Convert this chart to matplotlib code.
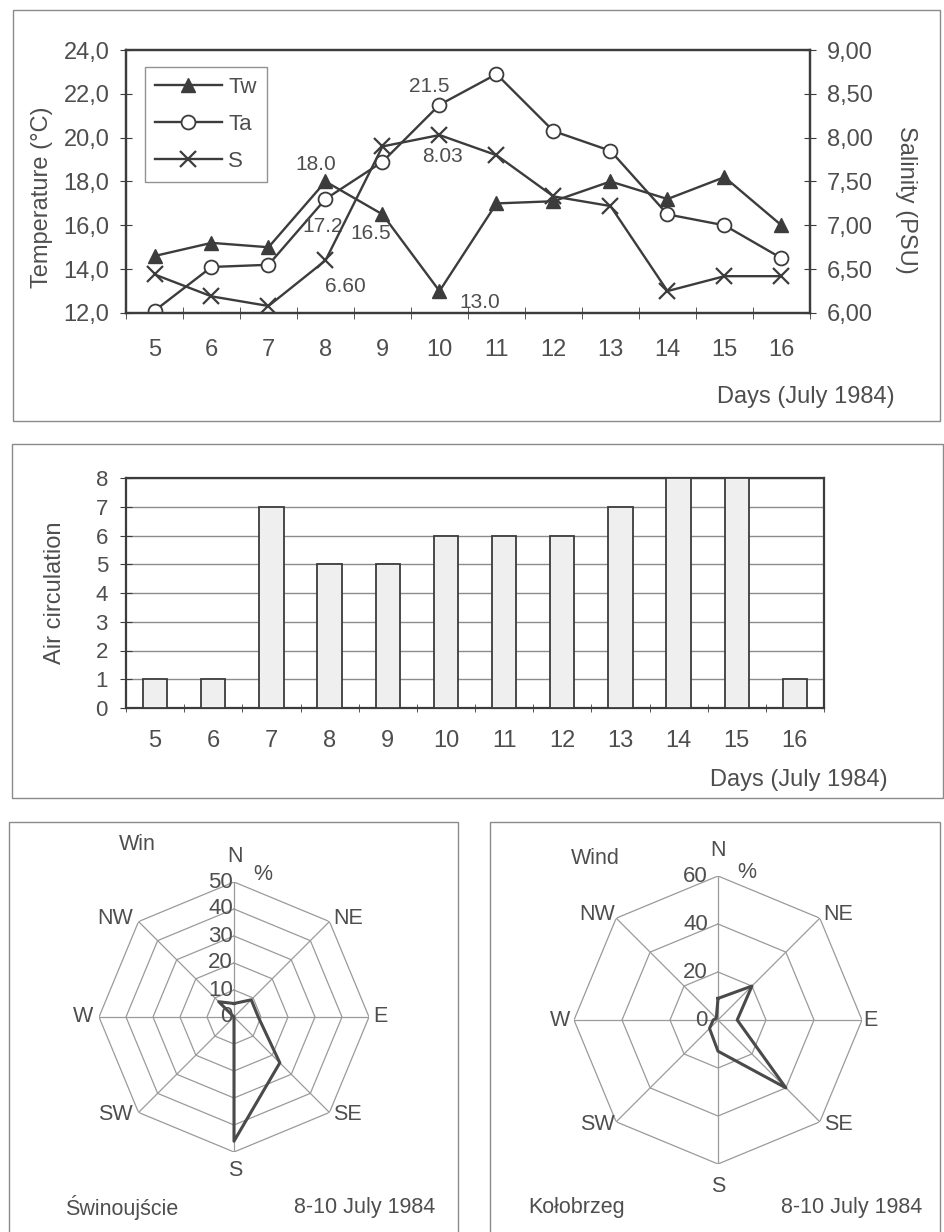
import numpy as np
import matplotlib
matplotlib.use("Agg")
import matplotlib.pyplot as plt
from matplotlib.patches import Rectangle

plt.rcParams['font.family'] = ['Liberation Sans', 'DejaVu Sans']

# ---- data ----
days = [5, 6, 7, 8, 9, 10, 11, 12, 13, 14, 15, 16]
tw = [14.6, 15.2, 15.0, 18.0, 16.5, 13.0, 17.0, 17.1, 18.0, 17.2, 18.2, 16.0]
ta = [12.1, 14.1, 14.2, 17.2, 18.9, 21.5, 22.9, 20.3, 19.4, 16.5, 16.0, 14.5]
sal = [6.44, 6.19, 6.08, 6.60, 7.90, 8.03, 7.80, 7.33, 7.22, 6.25, 6.42, 6.42]
air = [1, 1, 7, 5, 5, 6, 6, 6, 7, 8, 8, 1]

directions = ['N', 'NE', 'E', 'SE', 'S', 'SW', 'W', 'NW']
wind_swin = [5, 9, 9, 24, 46, 0, 0, 8]
wind_kol = [9, 20, 8, 40, 13, 5, 2, 1]

W, H = 945, 1232
INK = '#3c3c3c'
TXT = '#4e4e4e'
FRAME = '#8a8a8a'
FS = 17       # chart text
FS_R = 15.5   # radar text

fig = plt.figure(figsize=(W / 100, H / 100), dpi=100)
fig.patch.set_facecolor('white')


def rect(l, t, r, b):
    return [l / W, 1 - b / H, (r - l) / W, (b - t) / H]


def px(x, y):
    return x / W, 1 - y / H


def ftext(x, y, s, **kw):
    kw.setdefault('fontsize', FS)
    kw.setdefault('color', TXT)
    kw.setdefault('ha', 'center')
    kw.setdefault('va', 'center')
    fig.text(*px(x, y), s, **kw)


# panel frames
for (l, t, r, b) in [(13, 10, 940, 421), (12, 444, 943, 798), (9, 822, 458, 1240), (490, 822, 940, 1240)]:
    fig.patches.append(Rectangle(px(l, b), (r - l) / W, (b - t) / H, transform=fig.transFigure,
                                 fill=False, edgecolor=FRAME, lw=1.0))


def style_axes(ax):
    for sp in ax.spines.values():
        sp.set_color(INK)
        sp.set_linewidth(1.6)
    ax.tick_params(colors=INK, labelcolor=TXT, labelsize=FS)


# ---- top chart: temperature and salinity ----
ax = fig.add_axes(rect(126, 50, 810, 313))
ax2 = ax.twinx()
style_axes(ax)
style_axes(ax2)

l_tw, = ax.plot(days, tw, color=INK, lw=1.7, marker='^', ms=10, mfc=INK, mec=INK, label='Tw')
l_ta, = ax.plot(days, ta, color=INK, lw=1.7, marker='o', ms=10, mfc='white', mec=INK, mew=1.3, label='Ta')
l_s, = ax2.plot(days, sal, color=INK, lw=1.7, marker='x', ms=12, mew=1.6, label='S')

ax.set_xlim(4.5, 16.5)
ax.set_ylim(12, 24)
ax2.set_ylim(6, 9)
ax.set_yticks(np.arange(12, 24.1, 2))
ax.set_yticklabels([f'{v:.1f}'.replace('.', ',') for v in np.arange(12, 24.1, 2)])
ax2.set_yticks(np.arange(6, 9.01, 0.5))
ax2.set_yticklabels([f'{v:.2f}'.replace('.', ',') for v in np.arange(6, 9.01, 0.5)])
ax.set_xticks(days)
ax.set_xticks(np.arange(4.5, 16.6, 1), minor=True)
ax.tick_params(axis='x', which='major', length=0, pad=19)
ax.tick_params(axis='x', which='minor', direction='inout', length=8, color=INK)
ax.tick_params(axis='y', direction='inout', length=8, pad=8)
ax2.tick_params(axis='y', direction='inout', length=8, pad=8)

ax.set_ylabel('Temperature (°C)', fontsize=FS, color=TXT)
ax.yaxis.set_label_coords(-0.106, 0.44)
ax2.set_ylabel('Salinity (PSU)', fontsize=FS, color=TXT, rotation=-90, va='center')
ax2.yaxis.set_label_coords(1.14, 0.43)
ftext(895, 397, 'Days (July 1984)', ha='right')

# point labels
ann = dict(textcoords='offset pixels', fontsize=15, color=TXT, ha='center', va='center')
ax.annotate('18.0', (8, tw[3]), xytext=(-10, 17), **ann)
ax.annotate('17.2', (8, ta[3]), xytext=(-3, -27), **ann)
ax.annotate('16.5', (9, tw[4]), xytext=(-12, -19), **ann)
ax.annotate('21.5', (10, ta[5]), xytext=(-10, 18), **ann)
ax.annotate('13.0', (10, tw[5]), xytext=(40, -11), **ann)
ax2.annotate('6.60', (8, sal[3]), xytext=(20, -26), **ann)
ax2.annotate('8.03', (10, sal[5]), xytext=(3, -21), **ann)

leg = ax2.legend(handles=[l_tw, l_ta, l_s], loc='upper left', bbox_to_anchor=px(145, 67),
                 bbox_transform=fig.transFigure, fontsize=16, frameon=True, fancybox=False,
                 handlelength=3.0, handletextpad=0.3, labelspacing=0.72, borderpad=0.45,
                 borderaxespad=0)
leg.get_frame().set_edgecolor('#777777')
leg.get_frame().set_linewidth(1.0)
for t in leg.get_texts():
    t.set_color(TXT)

# ---- middle chart: air circulation ----
bx = fig.add_axes(rect(126, 478, 824, 708))
style_axes(bx)
bx.bar(days, air, width=0.42, color='#efefef', edgecolor=INK, lw=1.3, zorder=3)
bx.set_xlim(4.5, 16.5)
bx.set_ylim(0, 8)
bx.set_yticks(range(0, 9))
bx.yaxis.grid(True, color='#8c8c8c', lw=1.0, zorder=0)
bx.set_axisbelow(True)
bx.set_xticks(days)
bx.set_xticks(np.arange(4.5, 16.6, 1), minor=True)
bx.tick_params(axis='x', which='major', length=0, pad=16)
bx.tick_params(axis='x', which='minor', direction='inout', length=6, color=INK)
bx.tick_params(axis='y', direction='inout', length=8, pad=9, labelsize=16)
bx.set_ylabel('Air circulation', fontsize=FS, color=TXT)
bx.yaxis.set_label_coords(-0.086, 0.5)
ftext(888, 780, 'Days (July 1984)', ha='right')


# ---- wind radars ----
def radar(box, values, rings, rmax):
    rx = fig.add_axes(rect(*box), projection='polar')
    rx.set_theta_zero_location('N')
    rx.set_theta_direction(-1)
    rx.set_ylim(0, rmax)
    rx.grid(False)
    rx.spines['polar'].set_visible(False)
    rx.set_xticks([])
    rx.set_yticks([])
    rx.patch.set_alpha(0)
    theta = np.deg2rad(np.arange(0, 361, 45))
    for r in rings:
        rx.plot(theta, [r] * len(theta), color='#9a9a9a', lw=0.9)
    for t in theta[:-1]:
        rx.plot([t, t], [0, rmax], color='#9a9a9a', lw=0.9)
    vals = list(values) + [values[0]]
    rx.plot(theta, vals, color='#4a4a4a', lw=2.2)
    return rx


radar((99, 882, 369, 1152), wind_swin, [10, 20, 30, 40, 50], 50)
radar((574, 876, 862, 1164), wind_kol, [20, 40, 60], 60)

# left radar labels
for r in [0, 10, 20, 30, 40, 50]:
    ftext(233, 1017 - r / 50 * 135, str(r), ha='right', fontsize=16)
for s, x, y in [('N', 235, 857), ('NW', 115, 918), ('NE', 348, 918), ('W', 83, 1017),
                ('E', 380, 1017), ('SW', 115, 1115), ('SE', 347, 1115), ('S', 235, 1170)]:
    ftext(x, y, s, fontsize=FS_R)
ftext(263, 875, '%', fontsize=FS_R)
ftext(137, 845, 'Win', fontsize=FS_R)
ftext(65, 1208, 'Świnoujście', ha='left', fontsize=FS_R)
ftext(435, 1208, '8-10 July 1984', ha='right', fontsize=FS_R)

# right radar labels
for r in [0, 20, 40, 60]:
    ftext(708, 1020 - r / 60 * 144, str(r), ha='right', fontsize=16)
for s, x, y in [('N', 718, 850), ('NW', 597, 915), ('NE', 838, 915), ('W', 560, 1020),
                ('E', 870, 1020), ('SW', 597, 1125), ('SE', 838, 1125), ('S', 718, 1186)]:
    ftext(x, y, s, fontsize=FS_R)
ftext(747, 872, '%', fontsize=FS_R)
ftext(595, 858, 'Wind', fontsize=FS_R)
ftext(528, 1208, 'Kołobrzeg', ha='left', fontsize=FS_R)
ftext(922, 1208, '8-10 July 1984', ha='right', fontsize=FS_R)

fig.savefig('out.png', dpi=100, facecolor=fig.get_facecolor())
